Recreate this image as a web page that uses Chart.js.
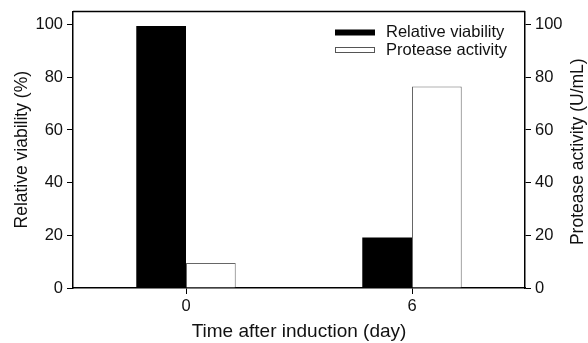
<!DOCTYPE html>
<html>
<head>
<meta charset="utf-8">
<script src="https://cdn.jsdelivr.net/npm/chart.js@4"></script>
<style>
  html, body { margin: 0; padding: 0; background: #fff; }
  #wrap { width: 588px; height: 343px; }
</style>
</head>
<body>
<div id="wrap"><canvas id="chart"></canvas></div>
<script>
const days = ['0', '6'];
const viability = [99.5, 19.2];   // Relative viability (%)
const protease = [9.5, 76.5];     // Protease activity (U/mL)
const yTicks = [0, 20, 40, 60, 80, 100];
const rightTitle = 'Protease activity (U/mL)';

const font = 'Liberation Sans, Arial, Helvetica, sans-serif';

// keep only the labelled ticks
function keepTicks(scale) {
  scale.ticks = yTicks.map(v => ({ value: v }));
}

// top frame line, right axis title and legend inside the plot
const framePlugin = {
  id: 'frame',
  afterDraw(chart) {
    const { ctx, chartArea: a } = chart;
    ctx.save();
    ctx.strokeStyle = '#000';
    ctx.lineWidth = 1.5;
    ctx.beginPath();
    ctx.moveTo(a.left, a.top);
    ctx.lineTo(a.right, a.top);
    ctx.stroke();

    // right title reads bottom to top like the left one
    ctx.save();
    ctx.translate(578, (a.top + a.bottom) / 2 + 2);
    ctx.rotate(-Math.PI / 2);
    ctx.font = '17.5px ' + font;
    ctx.fillStyle = '#111';
    ctx.textAlign = 'center';
    ctx.textBaseline = 'middle';
    ctx.fillText(rightTitle, 0, 0);
    ctx.restore();

    // legend
    ctx.font = '16.5px ' + font;
    ctx.textBaseline = 'middle';
    const ds = chart.data.datasets;
    ds.forEach((d, i) => {
      const y = 32.5 + i * 17.5;
      const bx = 335;
      if (i === 0) {
        ctx.fillStyle = '#000';
        ctx.fillRect(bx, y - 3, 40, 6);
      } else {
        ctx.fillStyle = '#fff';
        ctx.fillRect(bx, y - 3, 40, 6);
        ctx.strokeStyle = '#555';
        ctx.lineWidth = 1;
        ctx.strokeRect(bx + 0.5, y - 2.5, 39, 5);
      }
      ctx.fillStyle = '#111';
      ctx.fillText(d.label, 386, y);
    });
    ctx.restore();
  }
};

new Chart(document.getElementById('chart'), {
  type: 'bar',
  data: {
    labels: days,
    datasets: [
      {
        label: 'Relative viability',
        data: viability,
        yAxisID: 'y',
        backgroundColor: '#000',
        borderWidth: 0
      },
      {
        label: 'Protease activity',
        data: protease,
        yAxisID: 'y1',
        backgroundColor: '#fff',
        borderColor: '#666',
        borderWidth: 1
      }
    ]
  },
  options: {
    responsive: true,
    maintainAspectRatio: false,
    animation: false,
    layout: { padding: { top: 10, left: 0, right: 0, bottom: 0 } },
    datasets: {
      bar: { categoryPercentage: 0.44, barPercentage: 1 }
    },
    plugins: {
      legend: { display: false },
      tooltip: { enabled: false }
    },
    scales: {
      x: {
        grid: { display: true, offset: false, drawOnChartArea: false, drawTicks: true, tickLength: 6, color: '#000' },
        border: { display: true, color: '#000', width: 1.5 },
        ticks: { color: '#111', font: { family: font, size: 16.5 }, padding: 3 },
        title: { display: true, text: 'Time after induction (day)', color: '#111', font: { family: font, size: 19 }, padding: { top: 0, bottom: 0 } },
        afterFit(s) { s.height = 55; }
      },
      y: {
        position: 'left',
        min: 0,
        max: 105,
        afterBuildTicks: keepTicks,
        grid: { display: true, drawOnChartArea: false, drawTicks: true, tickLength: 6, color: '#000' },
        border: { display: true, color: '#000', width: 1.5 },
        ticks: { color: '#111', font: { family: font, size: 16.5, lineHeight: 0.9 }, padding: 4 },
        title: { display: true, text: 'Relative viability (%)', color: '#111', font: { family: font, size: 17.5 }, padding: { top: 12, bottom: 12 } },
        afterFit(s) { s.width = 73; }
      },
      y1: {
        position: 'right',
        min: 0,
        max: 105,
        afterBuildTicks: keepTicks,
        grid: { display: true, drawOnChartArea: false, drawTicks: true, tickLength: 6, color: '#000' },
        border: { display: true, color: '#000', width: 1.5 },
        ticks: { color: '#111', font: { family: font, size: 16.5, lineHeight: 0.9 }, padding: 4 },
        afterFit(s) { s.width = 63; }
      }
    }
  },
  plugins: [framePlugin]
});
</script>
</body>
</html>
